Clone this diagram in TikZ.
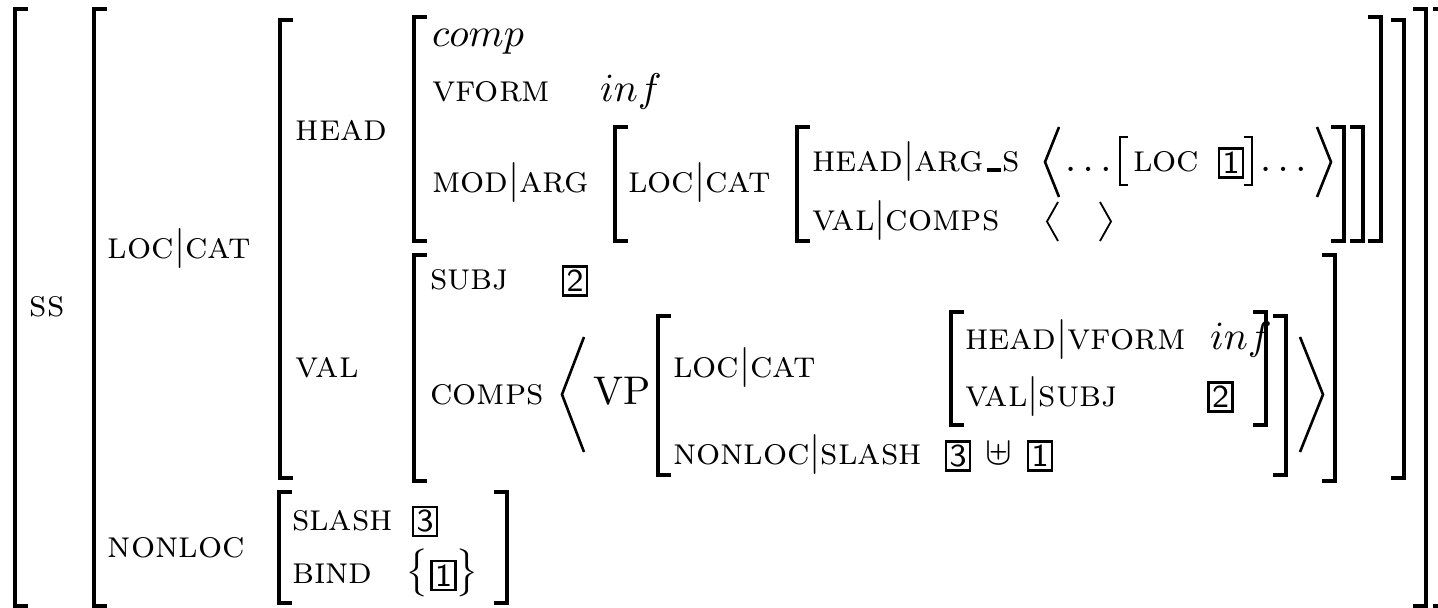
\documentclass[tikz,border=0pt]{standalone}
% attribute names: small caps, set a little under the body size
\newcommand\at[1]{{\fontsize{9.5}{11}\selectfont\textsc{#1}}}
\newcommand\pth[2]{\at{#1}$|$\at{#2}}
\newcommand\usbar{\kern0.55pt\rule{3.5pt}{0.9pt}\kern0.5pt}
% bracket helpers: x of the vertical stroke, top y, bottom y
\newcommand\lbr[4][brk]{\draw[#1] (#2+13,#3) -- (#2,#3) -- (#2,#4) -- (#2+13,#4);}
\newcommand\rbr[4][brk]{\draw[#1] (#2-13,#3) -- (#2,#3) -- (#2,#4) -- (#2-13,#4);}
\begin{document}
\begin{tikzpicture}[x=0.25pt,y=-0.25pt,line join=miter,
  brk/.style={line width=0.8pt},
  thinbrk/.style={line width=0.45pt},
  chev/.style={line width=0.65pt},
  lbl/.style={anchor=base west,inner sep=0pt,outer sep=0pt},
  tag/.style={draw,line width=0.55pt,inner sep=0pt,minimum width=6pt,minimum height=7.25pt,font=\sffamily\footnotesize}]
\useasboundingbox (0,0) rectangle (1438,608);

% ---- brackets of the nested matrices ----
\lbr{15}{9}{606}    \rbr{1446}{9}{606}
\lbr{94}{9}{606}    \rbr{1426}{9}{606}
\lbr{280}{20}{478}  \rbr{1404}{20}{478}
\lbr{414}{17}{241}  \rbr{1381}{17}{241}
\lbr{615}{127}{241} \rbr{1363}{127}{241}
\lbr{797}{127}{241} \rbr{1344}{127}{241}
\lbr{414}{255}{481} \rbr{1335}{255}{481}
\lbr{658}{316}{475} \rbr{1286}{316}{475}
\lbr{951}{312}{425} \rbr{1266}{312}{425}
\lbr{279}{492}{603} \rbr{507}{492}{603}
% small brackets round LOC 1
\draw[thinbrk] (1128,137) -- (1120,137) -- (1120,185) -- (1128,185);
\draw[thinbrk] (1244,137) -- (1252,137) -- (1252,185) -- (1244,185);

% ---- angle brackets ----
\draw[chev] (1059,127) -- (1045,162) -- (1059,197);
\draw[chev] (1317,127) -- (1331,162) -- (1317,197);
\draw[thinbrk] (1058,202) -- (1047,221.5) -- (1058,241);
\draw[thinbrk] (1100,202) -- (1111,221.5) -- (1100,241);
\draw[chev] (584,337) -- (562,394.5) -- (584,452);
\draw[chev] (1300,337) -- (1323,394.5) -- (1300,452);

% ---- attribute and value labels ----
\node[lbl] (ss) at (30,317) {\at{ss}};
\node[lbl] (loccat) at (108,259) {\pth{loc}{cat}};
\node[lbl] (nonloc) at (108,558) {\at{nonloc}};
\node[lbl] (head) at (296,141) {\at{head}};
\node[lbl] (val) at (296,378) {\at{val}};

\node[lbl] (comp) at (432,47) {$comp$};
\node[lbl] (vform) at (432,102) {\at{vform}};
\node[lbl] (infa) at (600,102) {$inf$};
\node[lbl] (modarg) at (432,193) {\pth{mod}{arg}};
\node[lbl] (loccatb) at (628,193) {\pth{loc}{cat}};
\node[lbl] (headargs) at (812,172) {\at{head}$|$\at{arg}\usbar\at{s}};
\node[lbl] (dotsa) at (1065,172) {$\ldots$};
\node[lbl] (loc) at (1133,172) {\at{loc}};
\node[tag] (tagonea) at (1231,163) {1};
\node[lbl] (dotsb) at (1260,172) {$\ldots$};
\node[lbl] (valcomps) at (812,231) {\pth{val}{comps}};

\node[lbl] (subj) at (430,290) {\at{subj}};
\node[tag] (tagtwoa) at (575,281) {2};
\node[lbl] (comps) at (430,404.5) {\at{comps}};
\node[lbl] (vp) at (593,404.5) {VP};
\node[lbl] (loccatc) at (673,378) {\pth{loc}{cat}};
\node[lbl] (nlslash) at (673,465) {\pth{nonloc}{slash}};
\node[tag] (tagthreea) at (958,456) {3};
\node[anchor=base,inner sep=0pt] (uplus) at (998.5,465) {$\uplus$};
\node[tag] (tagoneb) at (1040,456) {1};
\node[lbl] (hvform) at (965,350) {\pth{head}{vform}};
\node[lbl] (infb) at (1210,350) {$inf$};
\node[lbl] (valsubj) at (965,407) {\pth{val}{subj}};
\node[tag] (tagtwob) at (1220.5,397) {2};

\node[lbl] (slash) at (292,531) {\at{slash}};
\node[tag] (tagthreeb) at (425,521.5) {3};
\node[lbl] (bind) at (292,584) {\at{bind}};
\node[inner sep=0pt] (lbrace) at (417,573) {$\big\{$};
\node[tag] (tagonec) at (443.5,575.5) {1};
\node[inner sep=0pt] (rbrace) at (467,573) {$\big\}$};
\end{tikzpicture}
\end{document}
